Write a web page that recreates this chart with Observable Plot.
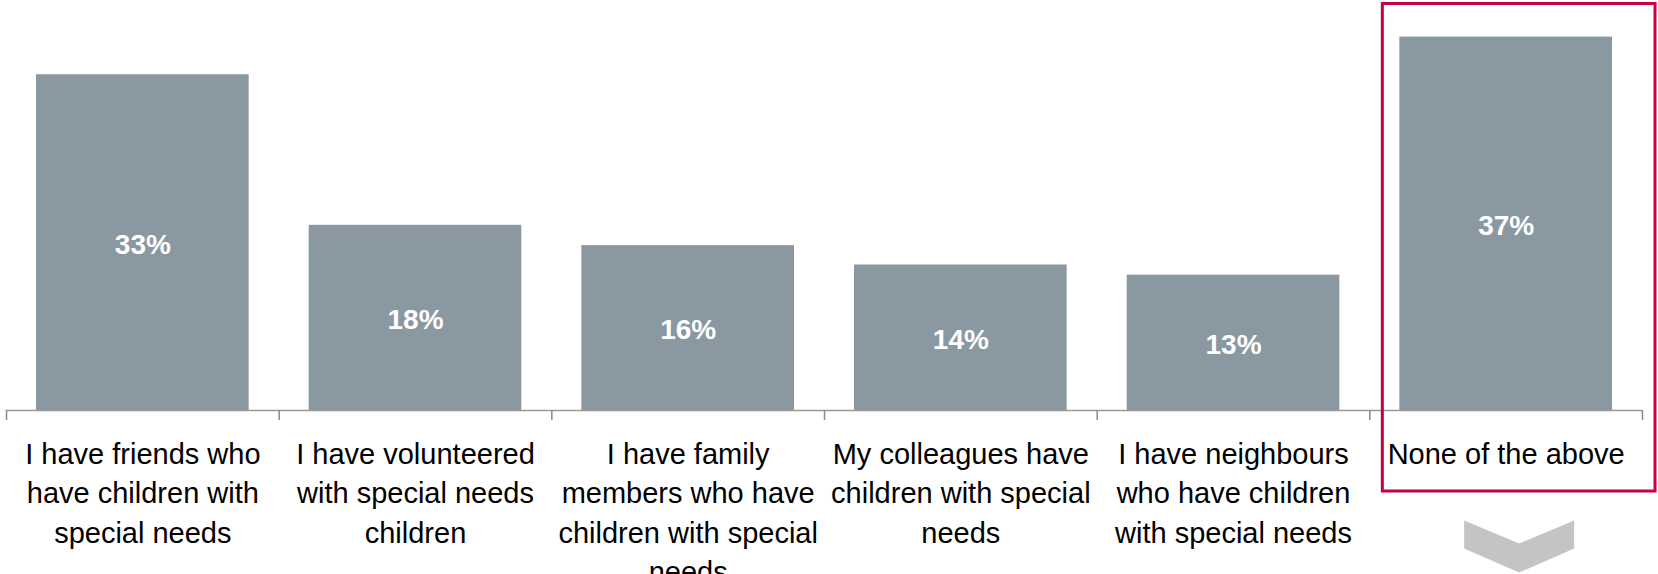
<!DOCTYPE html>
<html>
<head>
<meta charset="utf-8">
<script src="https://cdn.jsdelivr.net/npm/d3@7"></script>
<script src="https://cdn.jsdelivr.net/npm/@observablehq/plot@0.6"></script>
<style>
  html, body { margin: 0; padding: 0; background: #ffffff; }
  #chart svg { display: block; }
</style>
</head>
<body>
<div id="chart"></div>
<script>
const categories = [
  "I have friends who\nhave children with\nspecial needs",
  "I have volunteered\nwith special needs\nchildren",
  "I have family\nmembers who have\nchildren with special\nneeds",
  "My colleagues have\nchildren with special\nneeds",
  "I have neighbours\nwho have children\nwith special needs",
  "None of the above"
];
const values = [33.0, 18.2, 16.2, 14.3, 13.3, 36.7];
const valueLabels = ["33%", "18%", "16%", "14%", "13%", "37%"];
const highlighted = [5];

const data = categories.map((c, i) => ({i, category: c, value: values[i], label: valueLabels[i]}));
const hl = data.filter(d => highlighted.includes(d.i));
const boundaries = d3.range(categories.length + 1);

const chevron = {
  draw(ctx) {
    ctx.moveTo(-55, -26);
    ctx.lineTo(0, -3);
    ctx.lineTo(55, -26);
    ctx.lineTo(55, 2);
    ctx.lineTo(0, 26);
    ctx.lineTo(-55, 2);
    ctx.closePath();
  }
};

const chart = Plot.plot({
  width: 1658,
  height: 574,
  marginLeft: 6,
  marginRight: 16,
  marginTop: 3,
  marginBottom: 164,
  style: {fontFamily: "'Liberation Sans', Arial, sans-serif", background: "#ffffff"},
  x: {type: "linear", domain: [0, categories.length], axis: null},
  y: {domain: [0, 40], axis: null},
  marks: [
    Plot.rectY(data, {x1: d => d.i, x2: d => d.i + 1, y: "value", fill: "#8a98a1", insetLeft: 30, insetRight: 30}),
    Plot.ruleY([0], {stroke: "#9a9a9a", strokeWidth: 1.5}),
    Plot.axisX({ticks: boundaries, tickSize: 10, tickFormat: () => "", stroke: "#8a8a8a", strokeWidth: 1.5}),
    Plot.text(data, {x: d => d.i + 0.5, y: d => d.value / 2, text: "label", fill: "#ffffff", fontSize: 28, fontWeight: "bold", dy: 2}),
    Plot.text(data, {x: d => d.i + 0.5, y: 0, text: "category", fill: "#000000", fontSize: 29, lineAnchor: "top", lineHeight: 1.35, dy: 26}),
    Plot.rect(hl, {x1: d => d.i, x2: d => d.i + 1, y1: 0, y2: 40, stroke: "#c8003c", strokeWidth: 3, fill: "none", insetLeft: 13, insetRight: -13, insetTop: 0.5, insetBottom: -81}),
    Plot.dot(hl, {x: d => d.i + 0.5, y: 0, dx: 13, dy: 136, symbol: chevron, fill: "#c4c4c4", stroke: "none", r: 10})
  ]
});
document.getElementById("chart").appendChild(chart);
</script>
</body>
</html>
